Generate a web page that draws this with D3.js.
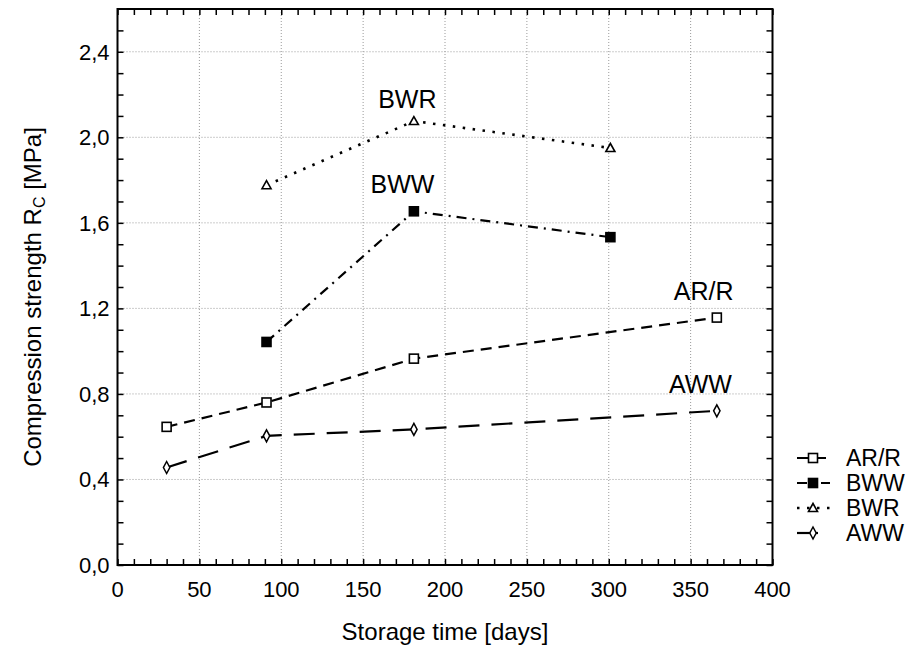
<!DOCTYPE html>
<html>
<head>
<meta charset="utf-8">
<script src="https://cdn.jsdelivr.net/npm/d3@7"></script>
<style>
  body { margin: 0; background: #fff; }
  text { font-family: "Liberation Sans", Arial, sans-serif; fill: #000; }
</style>
</head>
<body>
<svg id="chart" width="920" height="646"></svg>
<script>
'use strict';

// storage days of the measurements
const daysA = [30, 91, 181, 366];
const daysB = [91, 181, 301];

// compression strength Rc [MPa]
const arrValues = [0.646, 0.760, 0.965, 1.157];
const awwValues = [0.456, 0.604, 0.634, 0.721];
const bwwValues = [1.043, 1.654, 1.533];
const bwrValues = [1.776, 2.076, 1.950];

const seriesNames = ['AR/R', 'BWW', 'BWR', 'AWW'];
const xTicks = [0, 50, 100, 150, 200, 250, 300, 350, 400];
const yTicks = [0, 0.4, 0.8, 1.2, 1.6, 2.0, 2.4];

const plotLeft = 117.5, plotRight = 772.5, plotTop = 9, plotBottom = 565;

const svg = d3.select('#chart');

const x = d3.scaleLinear().domain([0, 400]).range([plotLeft, plotRight]);
const y = d3.scaleLinear().domain([0, 2.6]).range([plotBottom, plotTop]);

const fmt = v => d3.format('.1f')(v).replace('.', ',');

// grid
svg.append('g').selectAll('line')
    .data(xTicks.filter(d => d > 0 && d < 400))
    .enter().append('line')
    .attr('x1', d => x(d)).attr('x2', d => x(d))
    .attr('y1', plotTop).attr('y2', plotBottom)
    .attr('stroke', '#9a9a9a').attr('stroke-width', 1)
    .attr('stroke-dasharray', '1,2');

svg.append('g').selectAll('line')
    .data(yTicks.filter(d => d > 0))
    .enter().append('line')
    .attr('x1', plotLeft).attr('x2', plotRight)
    .attr('y1', d => y(d)).attr('y2', d => y(d))
    .attr('stroke', '#9a9a9a').attr('stroke-width', 1)
    .attr('stroke-dasharray', '1,2');

// inner ticks on all four sides
const tickLen = 6;
const xMinor = d3.range(0, 401, 10);
const yMinor = d3.range(0, 26).map(i => i / 10);

let axisBottom = d3.axisBottom(x).tickValues(xMinor).tickSize(tickLen).tickFormat('');
svg.append('g').attr('transform', `translate(0,${plotBottom - tickLen})`).call(axisBottom)
    .call(g => g.select('.domain').remove());
let axisTop = d3.axisTop(x).tickValues(xMinor).tickSize(tickLen).tickFormat('');
svg.append('g').attr('transform', `translate(0,${plotTop + tickLen})`).call(axisTop)
    .call(g => g.select('.domain').remove());
let axisLeft = d3.axisLeft(y).tickValues(yMinor).tickSize(tickLen).tickFormat('');
svg.append('g').attr('transform', `translate(${plotLeft + tickLen},0)`).call(axisLeft)
    .call(g => g.select('.domain').remove());
let axisRight = d3.axisRight(y).tickValues(yMinor).tickSize(tickLen).tickFormat('');
svg.append('g').attr('transform', `translate(${plotRight - tickLen},0)`).call(axisRight)
    .call(g => g.select('.domain').remove());
svg.selectAll('.tick line').attr('stroke', '#000').attr('stroke-width', 1.5);

// tick labels
svg.append('g').selectAll('text')
    .data(xTicks)
    .enter().append('text')
    .attr('x', d => x(d)).attr('y', plotBottom + 32)
    .attr('text-anchor', 'middle').attr('font-size', 22)
    .text(d => d);

svg.append('g').selectAll('text')
    .data(yTicks)
    .enter().append('text')
    .attr('x', plotLeft - 8).attr('y', d => y(d) + 8)
    .attr('text-anchor', 'end').attr('font-size', 22)
    .text(d => fmt(d));

// frame
svg.append('rect')
    .attr('x', plotLeft).attr('y', plotTop)
    .attr('width', plotRight - plotLeft).attr('height', plotBottom - plotTop)
    .attr('fill', 'none').attr('stroke', '#000').attr('stroke-width', 2);

// axis titles
svg.append('text')
    .attr('x', (plotLeft + plotRight) / 2).attr('y', 640)
    .attr('text-anchor', 'middle').attr('font-size', 24)
    .text('Storage time [days]');

let yTitle = svg.append('text')
    .attr('transform', `translate(41,${(plotTop + plotBottom) / 2 + 10}) rotate(-90)`)
    .attr('text-anchor', 'middle').attr('font-size', 24);
yTitle.append('tspan').text('Compression strength R');
yTitle.append('tspan').attr('font-size', 16).attr('dy', 4).text('C');
yTitle.append('tspan').attr('dy', -4).text(' [MPa]');

// series
const series = [
    {name: 'AR/R', days: daysA, values: arrValues, dash: '11,7', marker: 'square', fill: '#fff', sw: 2.2},
    {name: 'BWW', days: daysB, values: bwwValues, dash: '10,6,2,6', marker: 'square', fill: '#000', sw: 2.2},
    {name: 'BWR', days: daysB, values: bwrValues, dash: '2.5,7.5', marker: 'triangle', fill: '#fff', sw: 2.6},
    {name: 'AWW', days: daysA, values: awwValues, dash: '21,12', marker: 'diamond', fill: '#fff', sw: 2.2}
];

const line = d3.line().x(d => x(d[0])).y(d => y(d[1]));

let drawMarker = (g, kind, cx, cy, fill) => {
    if (kind === 'square') {
        g.append('rect').attr('x', cx - 4.5).attr('y', cy - 4.5)
            .attr('width', 9).attr('height', 9)
            .attr('fill', fill).attr('stroke', '#000').attr('stroke-width', 1.6);
    } else if (kind === 'triangle') {
        g.append('path').attr('d', `M${cx},${cy - 4.5}L${cx + 4.5},${cy + 3.5}L${cx - 4.5},${cy + 3.5}Z`)
            .attr('fill', fill).attr('stroke', '#000').attr('stroke-width', 1.6);
    } else {
        g.append('path').attr('d', `M${cx},${cy - 6}L${cx + 3.2},${cy}L${cx},${cy + 6}L${cx - 3.2},${cy}Z`)
            .attr('fill', fill).attr('stroke', '#000').attr('stroke-width', 1.5);
    }
};

series.forEach(s => {
    let pts = s.days.map((d, i) => [d, s.values[i]]);
    svg.append('path')
        .attr('d', line(pts))
        .attr('fill', 'none').attr('stroke', '#000')
        .attr('stroke-width', s.sw).attr('stroke-dasharray', s.dash);
    let g = svg.append('g');
    pts.forEach(p => drawMarker(g, s.marker, x(p[0]), y(p[1]), s.fill));
});

// labels inside the plot
const plotLabels = [
    {text: 'BWR', day: 177, value: 2.135},
    {text: 'BWW', day: 174, value: 1.74},
    {text: 'AR/R', day: 358, value: 1.238},
    {text: 'AWW', day: 356, value: 0.804}
];
svg.append('g').selectAll('text')
    .data(plotLabels)
    .enter().append('text')
    .attr('x', d => x(d.day)).attr('y', d => y(d.value))
    .attr('text-anchor', 'middle').attr('font-size', 25)
    .text(d => d.text);

// legend
const legend = svg.append('g');
series.forEach((s, i) => {
    let cy = 458 + i * 25;
    legend.append('line')
        .attr('x1', 797).attr('x2', 830).attr('y1', cy).attr('y2', cy)
        .attr('stroke', '#000').attr('stroke-width', s.sw)
        .attr('stroke-dasharray', s.dash);
    drawMarker(legend, s.marker, 813, cy, s.fill);
    legend.append('text')
        .attr('x', 846).attr('y', cy + 8)
        .attr('font-size', 23)
        .text(seriesNames[i]);
});
</script>
</body>
</html>
